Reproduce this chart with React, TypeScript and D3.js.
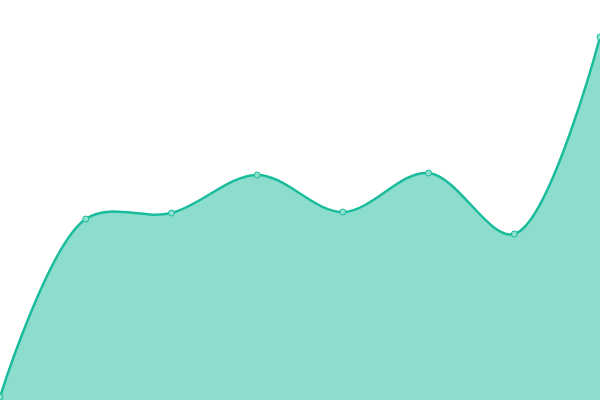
import React, { useEffect, useRef } from "react";
import * as d3 from "d3";

const WIDTH = 600;
const HEIGHT = 400;

// one value per point (scale 0..400)
const xIndex = [0, 1, 2, 3, 4, 5, 6, 7];
const values = [3, 181, 187, 225, 188, 227, 166, 363];

const LINE_COLOR = "#1abc9c";

export default function App() {
  const ref = useRef<SVGSVGElement>(null);

  useEffect(() => {
    const svg = d3.select(ref.current);
    svg.selectAll("*").remove();

    const data = xIndex.map((i) => ({ i, value: values[i] }));

    const x = d3
      .scaleLinear()
      .domain([0, xIndex.length - 1])
      .range([0, WIDTH]);

    const y = d3.scaleLinear().domain([0, 400]).range([HEIGHT, 0]);

    const area = d3
      .area<{ i: number; value: number }>()
      .x((d) => x(d.i))
      .y0(y(0))
      .y1((d) => y(d.value))
      .curve(d3.curveCatmullRom.alpha(0.5));

    const line = d3
      .line<{ i: number; value: number }>()
      .x((d) => x(d.i))
      .y((d) => y(d.value))
      .curve(d3.curveCatmullRom.alpha(0.5));

    svg
      .append("path")
      .datum(data)
      .attr("d", area)
      .attr("fill", LINE_COLOR)
      .attr("fill-opacity", 0.5);

    svg
      .append("path")
      .datum(data)
      .attr("d", line)
      .attr("fill", "none")
      .attr("stroke", LINE_COLOR)
      .attr("stroke-width", 2.5);

    svg
      .append("g")
      .selectAll("circle")
      .data(data)
      .join("circle")
      .attr("cx", (d) => x(d.i))
      .attr("cy", (d) => y(d.value))
      .attr("r", 3)
      .attr("fill", "#8ee0cf")
      .attr("stroke", LINE_COLOR)
      .attr("stroke-width", 1);
  }, []);

  return (
    <svg
      ref={ref}
      width={WIDTH}
      height={HEIGHT}
      style={{ position: "absolute", left: 0, top: 0, background: "#fff" }}
    />
  );
}
